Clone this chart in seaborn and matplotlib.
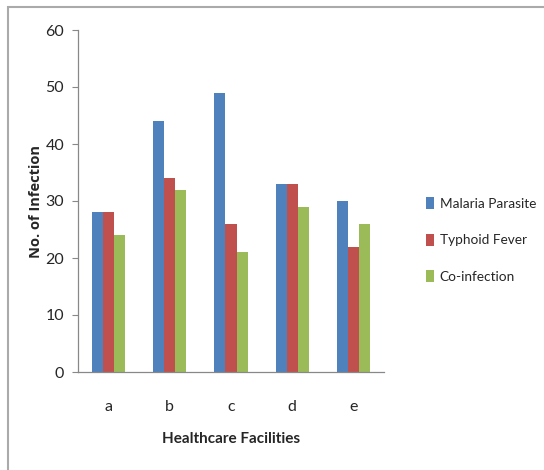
import matplotlib
matplotlib.use("Agg")
import matplotlib.pyplot as plt
import seaborn as sns
import pandas as pd
from matplotlib.patches import Rectangle

facilities = ["a", "b", "c", "d", "e"]
series_names = ["Malaria Parasite", "Typhoid Fever", "Co-infection"]
malaria = [28, 44, 49, 33, 30]
typhoid = [28, 34, 26, 33, 22]
coinfection = [24, 32, 21, 29, 26]
yticks = [0, 10, 20, 30, 40, 50, 60]
colors = ["#4F81BD", "#C0504D", "#9BBB59"]

rows = []
for name, vals in zip(series_names, [malaria, typhoid, coinfection]):
    for f, v in zip(facilities, vals):
        rows.append({"Facility": f, "Series": name, "Value": v})
df = pd.DataFrame(rows)

sns.set_style("white")
plt.rcParams["font.family"] = ["Lato", "DejaVu Sans"]

fig = plt.figure(figsize=(5.44, 4.70), dpi=100)
ax = fig.add_axes([78/544, 1-372/470, 306/544, 342/470])

sns.barplot(data=df, x="Facility", y="Value", hue="Series", palette=colors,
            width=0.54, ax=ax, saturation=1, legend=True, linewidth=0)

ax.set_ylim(0, 60)
ax.set_yticks(yticks)
ax.set_xlim(-0.5, 4.5)
ax.tick_params(axis="y", length=4, width=0.8, color="#888888", labelsize=11.5, pad=6, left=True)
ax.tick_params(axis="x", length=0, labelsize=11.5, pad=20)
for s in ["top", "right"]:
    ax.spines[s].set_visible(False)
for s in ["left", "bottom"]:
    ax.spines[s].set_color("#888888")
    ax.spines[s].set_linewidth(0.9)
ax.set_ylabel("No. of Infection", fontsize=10.5, fontweight="bold", labelpad=2,
              family=["Open Sans", "DejaVu Sans"])
ax.set_xlabel("Healthcare Facilities", fontsize=11, fontweight="bold", labelpad=13)

h, l = ax.get_legend_handles_labels()
ax.get_legend().remove()
fig.legend(h, l, loc="center left", bbox_to_anchor=(414/544, 1-240/470), frameon=False,
           fontsize=9.8, labelspacing=1.75, handlelength=0.6, handleheight=1.0,
           handletextpad=0.4)

fig.patches.append(Rectangle((8/544, -0.1), 1.2, 1-7/470+0.1, transform=fig.transFigure,
                             fill=False, edgecolor="#aaaaaa", linewidth=1.5))

fig.savefig("out.png", dpi=100)
